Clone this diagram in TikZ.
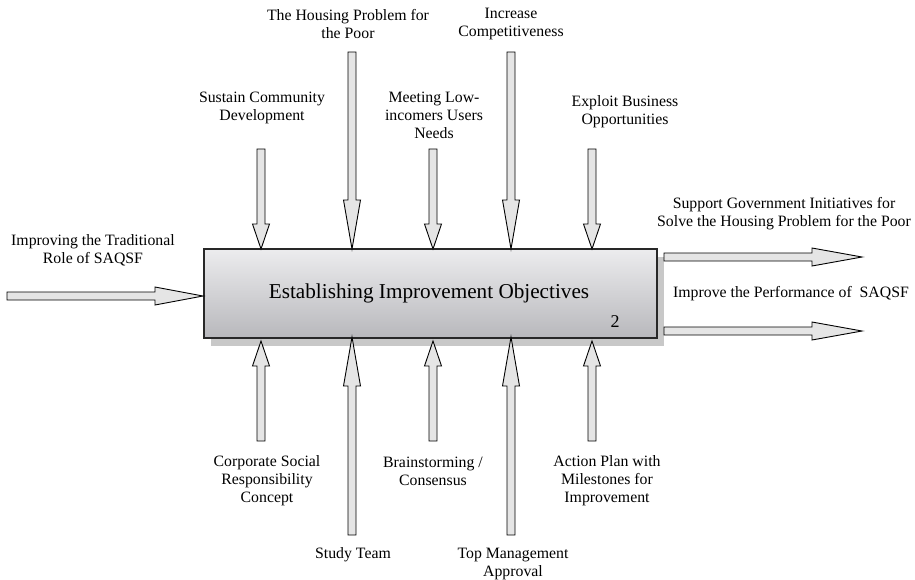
\documentclass[tikz,border=0pt]{standalone}
\usepackage{fontspec}
\setmainfont{Liberation Serif}
\usetikzlibrary{calc}
\definecolor{arrfill}{RGB}{229,229,229}
\definecolor{boxtop}{RGB}{236,236,238}
\definecolor{boxbot}{RGB}{184,184,188}
\definecolor{shadowc}{RGB}{200,200,200}
\definecolor{boxline}{RGB}{40,40,40}
\tikzset{
  lbl/.style={align=center, font=\fontsize{15.8}{18}\selectfont, inner sep=0pt},
  blk/.style={fill=arrfill, draw=black, line width=0.9pt, line join=miter},
}
\newcommand\ArrDown[3]{\filldraw[blk] ($(#1)+(-4,0)$) -- ($(#2)+(-4,-#3)$) -- ($(#2)+(-8.5,-#3)$) -- (#2) -- ($(#2)+(8.5,-#3)$) -- ($(#2)+(4,-#3)$) -- ($(#1)+(4,0)$) -- cycle;}
\newcommand\ArrUp[3]{\filldraw[blk] ($(#1)+(-4,0)$) -- ($(#2)+(-4,#3)$) -- ($(#2)+(-8.5,#3)$) -- (#2) -- ($(#2)+(8.5,#3)$) -- ($(#2)+(4,#3)$) -- ($(#1)+(4,0)$) -- cycle;}
\newcommand\ArrRight[3]{\filldraw[blk] ($(#1)+(0,-4)$) -- ($(#2)+(-#3,-4)$) -- ($(#2)+(-#3,-9)$) -- (#2) -- ($(#2)+(-#3,9)$) -- ($(#2)+(-#3,4)$) -- ($(#1)+(0,4)$) -- cycle;}
\begin{document}
\begin{tikzpicture}[x=1pt,y=-1pt]
\useasboundingbox (0,0) rectangle (915,579);
% box with shadow
\fill[shadowc] (211,257) rectangle (664,346);
\node[draw=boxline, line width=1.2pt, minimum width=453pt, minimum height=89pt, inner sep=0pt,
      top color=boxtop, bottom color=boxbot] (box) at (430.5,293.5) {};
\node[font=\fontsize{21.2}{24}\selectfont] (title) at (429,293) {Establishing Improvement Objectives};
\node[font=\fontsize{18}{20}\selectfont] (num) at (615,322) {2};

% labels
\node[lbl] (in1) at (93,250) {Improving the Traditional\\Role of SAQSF};
\node[lbl] (out1) at (784,214) {Support Government Initiatives for\\Solve the Housing Problem for the Poor};
\node[lbl] (out2) at (791,294) {Improve the Performance of~ SAQSF};
\node[lbl] (c1) at (262,108) {Sustain Community\\Development};
\node[lbl] (c2) at (348,24) {The Housing Problem for\\the Poor};
\node[lbl] (c3) at (434,115) {Meeting Low-\\incomers Users\\Needs};
\node[lbl] (c4) at (511,24) {Increase\\Competitiveness};
\node[lbl] (c5) at (625,112) {Exploit Business\\Opportunities};
\node[lbl] (m1) at (267,481) {Corporate Social\\Responsibility\\Concept};
\node[lbl] (m2) at (353,555) {Study Team};
\node[lbl] (m3) at (433,471) {Brainstorming /\\Consensus};
\node[lbl] (m4) at (513,564) {Top Management\\Approval};
\node[lbl] (m5) at (607,481) {Action Plan with\\Milestones for\\Improvement};

% arrow end points
\coordinate (c1s) at (261,149); \coordinate (c1t) at (261,249);
\coordinate (c2s) at (352,52);  \coordinate (c2t) at (352,249);
\coordinate (c3s) at (433,149); \coordinate (c3t) at (433,249);
\coordinate (c4s) at (511,52);  \coordinate (c4t) at (511,249);
\coordinate (c5s) at (592,149); \coordinate (c5t) at (592,249);
\coordinate (m1s) at (261,441); \coordinate (m1t) at (261,341);
\coordinate (m2s) at (352,535); \coordinate (m2t) at (352,337);
\coordinate (m3s) at (433,441); \coordinate (m3t) at (433,341);
\coordinate (m4s) at (511,535); \coordinate (m4t) at (511,337);
\coordinate (m5s) at (592,441); \coordinate (m5t) at (592,341);
\coordinate (ins) at (7,296);   \coordinate (int) at (203,296);
\coordinate (o1s) at (664,257); \coordinate (o1t) at (862,257);
\coordinate (o2s) at (664,331); \coordinate (o2t) at (862,331);

\ArrDown{c1s}{c1t}{25}
\ArrDown{c2s}{c2t}{49}
\ArrDown{c3s}{c3t}{25}
\ArrDown{c4s}{c4t}{49}
\ArrDown{c5s}{c5t}{25}
\ArrUp{m1s}{m1t}{25}
\ArrUp{m2s}{m2t}{49}
\ArrUp{m3s}{m3t}{25}
\ArrUp{m4s}{m4t}{49}
\ArrUp{m5s}{m5t}{25}
\ArrRight{ins}{int}{48}
\ArrRight{o1s}{o1t}{50}
\ArrRight{o2s}{o2t}{50}
\end{tikzpicture}
\end{document}
